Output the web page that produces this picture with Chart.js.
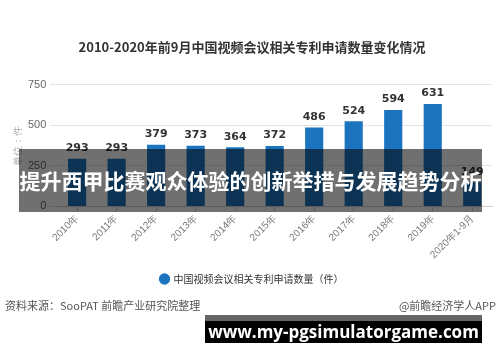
<!DOCTYPE html>
<html lang="zh">
<head>
  <meta charset="UTF-8" />
  <title>视频会议专利申请数量</title>
  <script src="https://cdn.jsdelivr.net/npm/chart.js"></script>
  <style>
    body { margin: 0; background: #fff; font-family: "Noto Sans CJK SC", sans-serif; }
    #wrap { position: relative; width: 500px; height: 362px; overflow: hidden; }
    #chart { position: absolute; left: 0; top: 0; }
    .band { position: absolute; left: 19px; top: 149px; width: 463px; height: 63px;
      background: rgba(0,0,0,0.56); color: #fff; font-weight: bold; font-size: 21px;
      line-height: 63px; text-align: center; white-space: nowrap; }
    .src { position: absolute; top: 297px; font-size: 11px; color: #555; }
    .site { position: absolute; left: 205px; top: 315px; width: 277px; height: 28px;
      background: #000; border-top: 6px solid #666; box-sizing: border-box; color: #fff;
      font-family: "Open Sans", sans-serif; font-weight: bold; font-size: 17px;
      line-height: 22px; text-align: center; }
  </style>
</head>
<body>
<div id="wrap">
  <canvas id="chart" width="500" height="362"></canvas>
  <div class="band">提升西甲比赛观众体验的创新举措与发展趋势分析</div>
  <div class="src" style="left:5px;">资料来源：SooPAT 前瞻产业研究院整理</div>
  <div class="src" style="right:4px;">@前瞻经济学人APP</div>
  <div class="site">www.my-pgsimulatorgame.com</div>
</div>

<script>
  const years = ["2010年", "2011年", "2012年", "2013年", "2014年", "2015年",
                 "2016年", "2017年", "2018年", "2019年", "2020年1-9月"];
  const patents = [293, 293, 379, 373, 364, 372, 486, 524, 594, 631, 149];
  const yTicks = [0, 250, 500, 750];

  // numbers on top of each bar
  const valueLabels = {
    id: 'valueLabels',
    afterDatasetsDraw(chart) {
      const ctx = chart.ctx;
      const meta = chart.getDatasetMeta(0);
      ctx.save();
      ctx.font = 'bold 11px "DejaVu Sans", sans-serif';
      ctx.fillStyle = '#333';
      ctx.textAlign = 'center';
      ctx.textBaseline = 'bottom';
      meta.data.forEach((bar, i) => {
        ctx.fillText(patents[i], bar.x, bar.y - 5);
      });
      ctx.restore();
    }
  };

  new Chart(document.getElementById('chart'), {
    type: 'bar',
    data: {
      labels: years,
      datasets: [{
        label: '中国视频会议相关专利申请数量（件）',
        data: patents,
        backgroundColor: '#1c74bf',
        barPercentage: 0.46,
        categoryPercentage: 1
      }]
    },
    options: {
      responsive: false,
      animation: false,
      layout: { padding: { left: 12, right: 8, top: 0, bottom: 68 } },
      plugins: {
        title: {
          display: true,
          text: '2010-2020年前9月中国视频会议相关专利申请数量变化情况',
          color: '#333',
          font: { size: 13, weight: 'bold', family: '"Noto Sans CJK SC", sans-serif' },
          padding: { top: 39, bottom: 30 }
        },
        legend: {
          position: 'bottom',
          labels: {
            usePointStyle: true,
            pointStyle: 'circle',
            boxWidth: 8,
            boxHeight: 8,
            color: '#333',
            font: { size: 10, family: '"Noto Sans CJK SC", sans-serif' },
            padding: 12
          }
        },
        tooltip: { enabled: false }
      },
      scales: {
        y: {
          min: 0,
          max: 750,
          afterBuildTicks: axis => { axis.ticks = yTicks.map(v => ({ value: v })); },
          grid: { color: '#e3e3e3', drawTicks: true, tickLength: 7 },
          border: { display: false },
          ticks: { color: '#666', font: { size: 11 }, padding: 4 },
          title: { display: true, text: '单位：件', color: '#aaa', font: { size: 10 },
                   padding: { top: 0, bottom: 0 } }
        },
        x: {
          grid: { display: true, drawOnChartArea: false, offset: false, tickLength: 5, color: '#ccc' },
          border: { color: '#ccc' },
          ticks: { color: '#777', font: { size: 10 }, minRotation: 45, maxRotation: 45, padding: 1 }
        }
      }
    },
    plugins: [valueLabels]
  });
</script>
</body>
</html>
